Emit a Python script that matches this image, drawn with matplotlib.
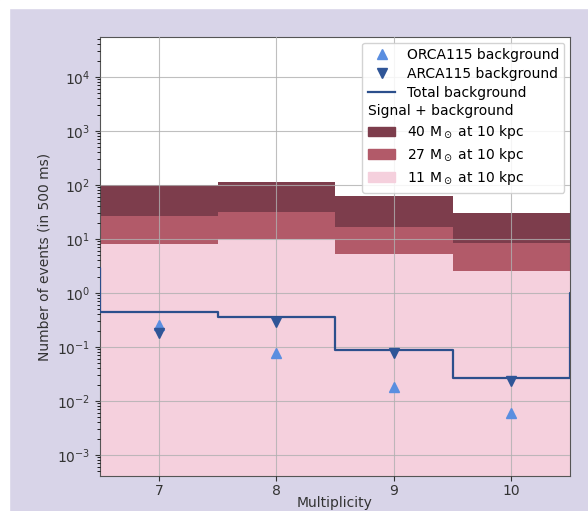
import matplotlib
matplotlib.use("Agg")
import matplotlib.pyplot as plt
import numpy as np
from matplotlib.patches import Patch, Rectangle
from matplotlib.lines import Line2D
from matplotlib.legend_handler import HandlerBase
from matplotlib.ticker import NullFormatter

# ---- data ----
multiplicity = [7, 8, 9, 10]
sig_40 = [100, 115, 62, 30]
sig_27 = [27, 32, 17, 8.5]
sig_11 = [8.2, 10.1, 5.3, 2.55]
orca_bkg = [0.26, 0.077, 0.018, 0.006]
arca_bkg = [0.18, 0.29, 0.076, 0.023]
total_mult = [6, 7, 8, 9, 10, 11]
total_bkg = [2.9, 0.44, 0.36, 0.088, 0.027, 1.0]

c40 = "#7d3d4c"
c27 = "#b25a69"
c11 = "#f5d0dd"
c_line = "#2c4f8c"
c_orca = "#5a8ee0"
c_arca = "#2f5597"
bg = "#d8d4e8"

fig = plt.figure(figsize=(5.88, 5.11), dpi=100, facecolor=bg)
# screenshot white strips
fig.patches.append(Rectangle((0, 0), 9 / 588, 1, transform=fig.transFigure, color="white", zorder=-1))
fig.patches.append(Rectangle((0, 1 - 8 / 511), 1, 8 / 511, transform=fig.transFigure, color="white", zorder=-1))

ax = fig.add_axes([100 / 588, 35 / 511, 470 / 588, 439 / 511])
ax.set_facecolor("white")

edges = np.array(multiplicity + [multiplicity[-1] + 1]) - 0.5
floor = 1e-6
ax.stairs(sig_40, edges, baseline=floor, fill=True, color=c40, zorder=1)
ax.stairs(sig_27, edges, baseline=floor, fill=True, color=c27, zorder=1.1)
ax.stairs(sig_11, edges, baseline=floor, fill=True, color=c11, zorder=1.2)

ax.plot(total_mult, total_bkg, drawstyle="steps-mid", color=c_line, lw=1.6, zorder=3)
ax.plot(multiplicity, orca_bkg, ls="none", marker="^", color=c_orca, ms=7, zorder=4)
ax.plot(multiplicity, arca_bkg, ls="none", marker="v", color=c_arca, ms=7, zorder=4)

ax.set_yscale("log")
ax.set_xlim(6.5, 10.5)
ax.set_ylim(10 ** -3.39, 10 ** 4.74)
ax.set_xticks(multiplicity)
ax.yaxis.set_minor_formatter(NullFormatter())
ax.grid(True, which="major", color="#b0b0b0", lw=0.8, alpha=0.8, zorder=2)
ax.set_axisbelow(False)
for s in ax.spines.values():
    s.set_color("#555555")
ax.tick_params(labelsize=10, colors="#333333")
ax.tick_params(axis="x", pad=2.5)
ax.set_xlabel("Multiplicity", fontsize=10, color="#333333")
ax.xaxis.set_label_coords(0.5, -0.046)
ax.set_ylabel("Number of events (in 500 ms)", fontsize=10, color="#333333")


class TextHandler(HandlerBase):
    def create_artists(self, legend, orig_handle, xdescent, ydescent, width, height, fontsize, trans):
        t = matplotlib.text.Text(-xdescent, height / 2 - ydescent, orig_handle.get_label(),
                                 fontsize=fontsize, va="center", ha="left", transform=trans)
        return [t]


class HeaderHandle:
    def __init__(self, label):
        self._label = label

    def get_label(self):
        return self._label


header = HeaderHandle("Signal + background")
handles = [
    Line2D([], [], ls="none", marker="^", color=c_orca, ms=7),
    Line2D([], [], ls="none", marker="v", color=c_arca, ms=7),
    Line2D([], [], color=c_line, lw=1.6),
    header,
    Patch(color=c40),
    Patch(color=c27),
    Patch(color=c11),
]
labels = ["ORCA115 background", "ARCA115 background", "Total background", "",
          r"40 M$_\odot$ at 10 kpc", r"27 M$_\odot$ at 10 kpc", r"11 M$_\odot$ at 10 kpc"]
leg = ax.legend(handles, labels, loc="upper right", fontsize=10, framealpha=0.85,
                handler_map={HeaderHandle: TextHandler()}, borderaxespad=0.4,
                labelspacing=0.35)
leg.set_zorder(10)

fig.savefig("out.png", dpi=100, facecolor=bg)
